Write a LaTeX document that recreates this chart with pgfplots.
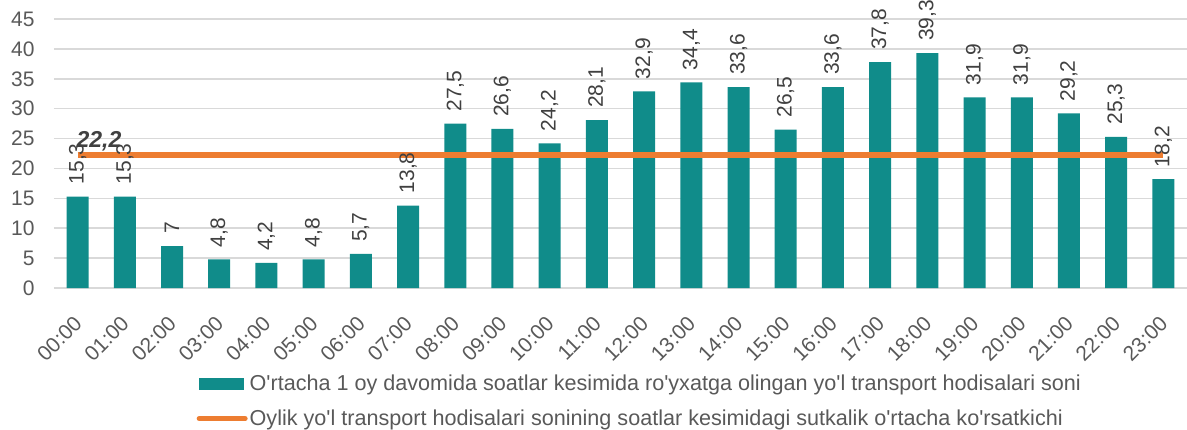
\documentclass[border=0pt]{standalone}
\usepackage{fontspec}
\setmainfont{Liberation Sans}
\usepackage{pgfplots}
\pgfplotsset{compat=1.18}
\definecolor{barc}{RGB}{16,140,138}
\definecolor{linec}{RGB}{237,125,49}
\definecolor{txt}{RGB}{89,89,89}
\definecolor{lbl}{RGB}{64,64,64}
\definecolor{gridc}{RGB}{217,217,217}
\newcommand{\q}{\textquotesingle}
\begin{document}
\begin{tikzpicture}
\begin{axis}[
  name=ax, at={(0,0)}, anchor=south west,
  scale only axis, width=1133pt, height=269pt,
  xmin=-0.5, xmax=23.5, ymin=0, ymax=45,
  axis line style={draw=none},
  ytick={0,5,...,45},
  ymajorgrids, grid style={gridc, line width=1.5pt},
  xtick={0,...,23},
  xticklabels={00:00,01:00,02:00,03:00,04:00,05:00,06:00,07:00,08:00,09:00,10:00,11:00,12:00,13:00,14:00,15:00,16:00,17:00,18:00,19:00,20:00,21:00,22:00,23:00},
  major tick length=0pt,
  tick label style={font=\fontsize{21}{21}\selectfont, text=txt},
  yticklabel style={xshift=-16pt},
  xticklabel style={rotate=45, anchor=north east, xshift=-19pt, yshift=-12pt},
  /pgf/number format/assume math mode=true,
  clip=false,
  legend style={at={(0.517,-0.315)}, anchor=north, draw=none, fill=none,
    legend columns=1, cells={anchor=west}, font=\fontsize{21.6}{21.6}\selectfont,
    text=txt, row sep=14pt, inner sep=0pt, nodes={inner sep=2pt}},
]
\addplot[ybar, bar width=22pt, fill=barc, draw=none,
  nodes near coords={\pgfmathprintnumber[use comma, fixed, precision=1]{\pgfplotspointmeta}},
  every node near coord/.append style={rotate=90, anchor=west, text=lbl, font=\fontsize{21}{21}\selectfont, inner xsep=12pt, inner ysep=0pt},
  legend image code/.code={\fill[barc] (0pt,-6pt) rectangle (45pt,6pt);}
] coordinates {
(0,15.3) (1,15.3) (2,7) (3,4.8) (4,4.2) (5,4.8) (6,5.7) (7,13.8) (8,27.5) (9,26.6) (10,24.2) (11,28.1)
(12,32.9) (13,34.4) (14,33.6) (15,26.5) (16,33.6) (17,37.8) (18,39.3) (19,31.9) (20,31.9) (21,29.2) (22,25.3) (23,18.2)};
\addlegendentry{O\q rtacha 1 oy davomida soatlar kesimida ro\q yxatga olingan yo\q l transport hodisalari soni}
\addplot[linec, line width=6pt,
  legend image code/.code={\draw[linec, line width=5pt, line cap=round] (0pt,0pt) -- (46pt,0pt);}
] coordinates {(0,22.2) (1,22.2) (2,22.2) (3,22.2) (4,22.2) (5,22.2) (6,22.2) (7,22.2) (8,22.2) (9,22.2) (10,22.2) (11,22.2)
(12,22.2) (13,22.2) (14,22.2) (15,22.2) (16,22.2) (17,22.2) (18,22.2) (19,22.2) (20,22.2) (21,22.2) (22,22.2) (23,22.2)}
node[pos=0, anchor=south west, xshift=-4pt, yshift=1pt, inner sep=0pt, text=lbl, font=\fontsize{23}{23}\selectfont\bfseries\itshape] {22,2};
\addlegendentry{Oylik yo\q l transport hodisalari sonining soatlar kesimidagi sutkalik o\q rtacha ko\q rsatkichi}
\end{axis}
\pgfresetboundingbox
\path[use as bounding box] (-54pt,-141pt) rectangle (1133pt,288pt);
\end{tikzpicture}
\end{document}
